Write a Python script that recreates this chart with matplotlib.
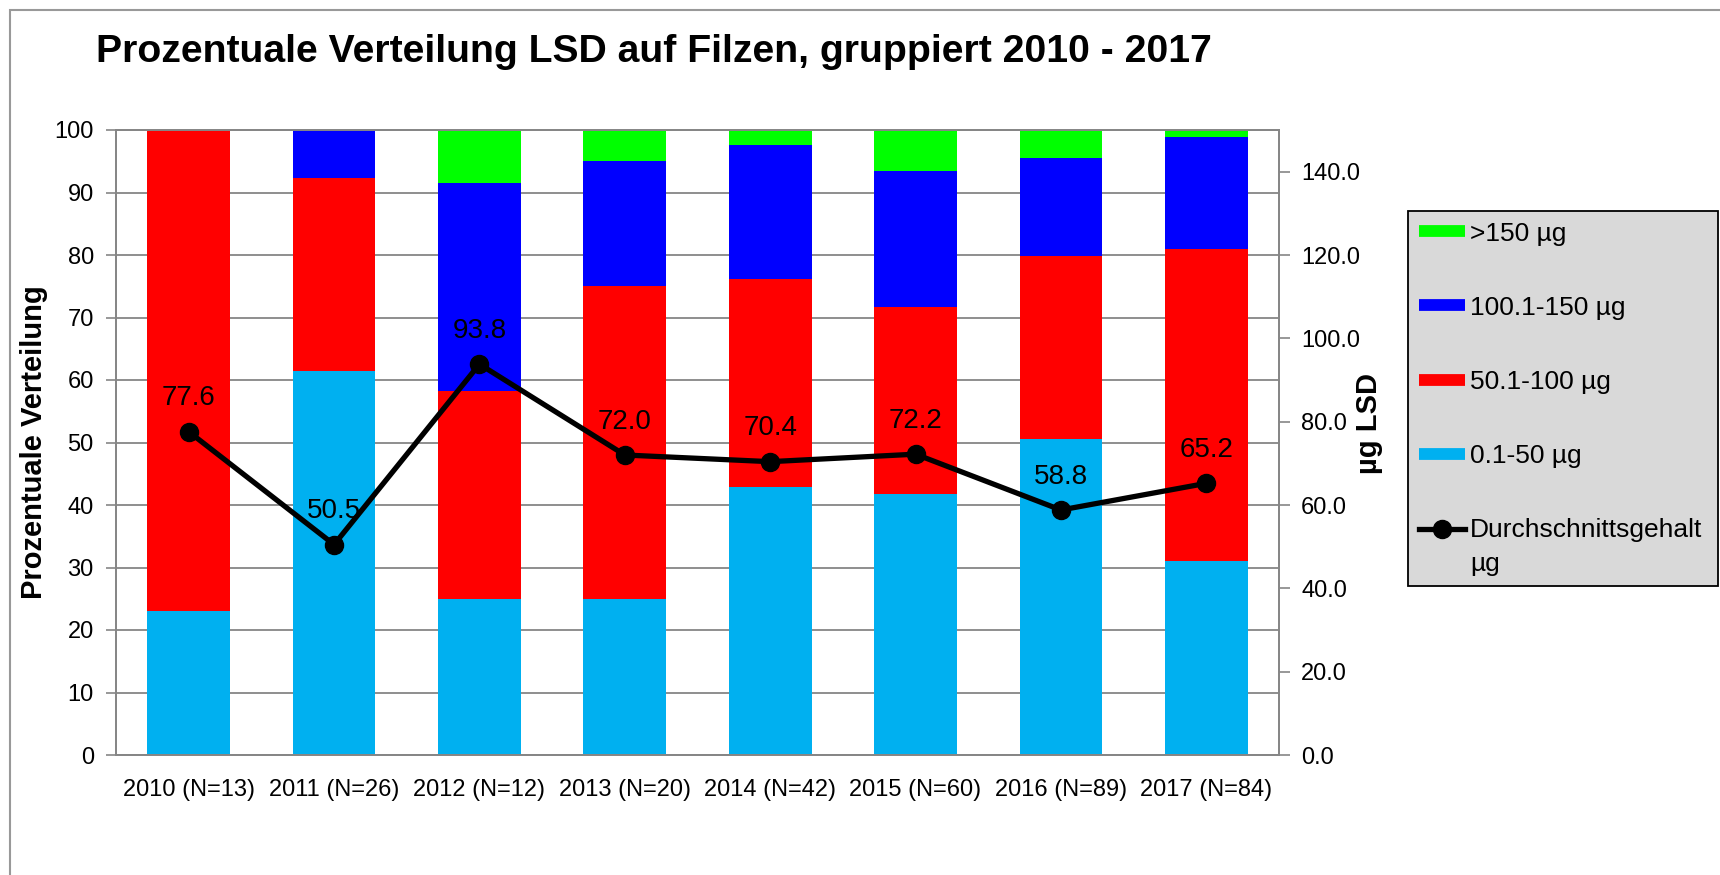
import numpy as np
import matplotlib
matplotlib.use("Agg")
import matplotlib.pyplot as plt
from matplotlib.lines import Line2D
from matplotlib.patches import Rectangle

plt.rcParams['font.family'] = ['Liberation Sans', 'DejaVu Sans']

categories = ["2010 (N=13)", "2011 (N=26)", "2012 (N=12)", "2013 (N=20)",
              "2014 (N=42)", "2015 (N=60)", "2016 (N=89)", "2017 (N=84)"]
share_low = [23.1, 61.5, 25.0, 25.0, 42.9, 41.7, 50.6, 31.0]
share_mid = [76.9, 30.8, 33.3, 50.0, 33.3, 30.0, 29.2, 50.0]
share_high = [0.0, 7.7, 33.3, 20.0, 21.4, 21.7, 15.7, 17.9]
share_top = [0.0, 0.0, 8.3, 5.0, 2.4, 6.7, 4.5, 1.2]
mean_content = [77.6, 50.5, 93.8, 72.0, 70.4, 72.2, 58.8, 65.2]

series_labels = ["0.1-50 µg", "50.1-100 µg", "100.1-150 µg", ">150 µg"]
series_colors = ["#00B0F0", "#FF0000", "#0000FF", "#00FF00"]
line_label = "Durchschnittsgehalt\nµg"

GRAY = "#868686"


def main():
    fig = plt.figure(figsize=(17.2, 8.75), dpi=100)
    ax = fig.add_axes([116 / 1720, 1 - 755 / 875, 1163 / 1720, 625 / 875])

    x = np.arange(len(categories))
    bottom = np.zeros(len(categories))
    for values, color in zip([share_low, share_mid, share_high, share_top], series_colors):
        ax.bar(x, values, width=0.57, bottom=bottom, color=color, zorder=2)
        bottom += np.array(values)

    ax.set_xlim(-0.5, len(categories) - 0.5)
    ax.set_ylim(0, 100)
    ax.set_yticks(np.arange(0, 101, 10))
    ax.set_xticks(x)
    ax.set_xticklabels(categories, fontsize=17)
    ax.tick_params(axis='x', length=0, pad=17)
    ax.tick_params(axis='y', length=7, width=1.2, color=GRAY, labelsize=17, pad=9)
    ax.grid(axis='y', color=GRAY, linewidth=1.3, zorder=0)
    ax.set_axisbelow(True)
    for spine in ax.spines.values():
        spine.set_color(GRAY)
        spine.set_linewidth(1.3)
    ax.set_ylabel("Prozentuale Verteilung", fontsize=21, fontweight='bold')
    ax.yaxis.set_label_coords((48 - 116) / 1163, 0.5)

    ax2 = ax.twinx()
    ax2.set_ylim(0, 150)
    ax2.set_yticks(np.arange(0, 141, 20))
    ax2.set_yticklabels([f"{v:.1f}" for v in np.arange(0, 141, 20)])
    ax2.tick_params(axis='y', length=8, width=1.2, color=GRAY, labelsize=17, pad=8)
    for spine in ax2.spines.values():
        spine.set_color(GRAY)
        spine.set_linewidth(1.3)
    ax2.set_ylabel("µg LSD", fontsize=21, fontweight='bold')
    ax2.yaxis.set_label_coords((1355 - 116) / 1163, 0.53)

    ax2.plot(x, mean_content, color='black', linewidth=3.8, marker='o',
             markersize=13, zorder=5)
    for xi, v in zip(x, mean_content):
        ax2.annotate(f"{v:.1f}", (xi, v), xytext=(0, 24), textcoords='offset points',
                     ha='center', va='center', fontsize=20)

    fig.text(96 / 1720, 1 - 52 / 875, "Prozentuale Verteilung LSD auf Filzen, gruppiert 2010 - 2017",
             fontsize=28.2, fontweight='bold', ha='left', va='center')

    handles = [Line2D([], [], color=c, linewidth=8.5, solid_capstyle='butt')
               for c in reversed(series_colors)]
    handles.append(Line2D([], [], color='black', linewidth=3.8, marker='o', markersize=13))
    labels = list(reversed(series_labels)) + [line_label]
    leg = fig.legend(handles, labels, loc='upper left',
                     bbox_to_anchor=(1408 / 1720, 1 - 211 / 875 - 0.01, 310 / 1720, 0.01),
                     mode='expand', fontsize=19, frameon=True, fancybox=False,
                     labelspacing=1.9, handlelength=1.75, handletextpad=0.2,
                     borderpad=0.4, borderaxespad=0)
    frame = leg.get_frame()
    frame.set_facecolor('#D9D9D9')
    frame.set_edgecolor('black')
    frame.set_linewidth(1.3)
    frame.set_alpha(1)
    leg.get_texts()[-1].set_linespacing(1.5)
    # first text line of the two-line entry sits level with its marker
    last = leg.legend_handles[-1]
    last.set_ydata(np.asarray(last.get_ydata()) + 12.8)

    fig.add_artist(Rectangle((10 / 1720, -0.2), 2, 1.2 - 10 / 875, transform=fig.transFigure,
                             fill=False, edgecolor='#999999', linewidth=1.5))

    fig.savefig("out.png", dpi=100)


if __name__ == "__main__":
    main()
